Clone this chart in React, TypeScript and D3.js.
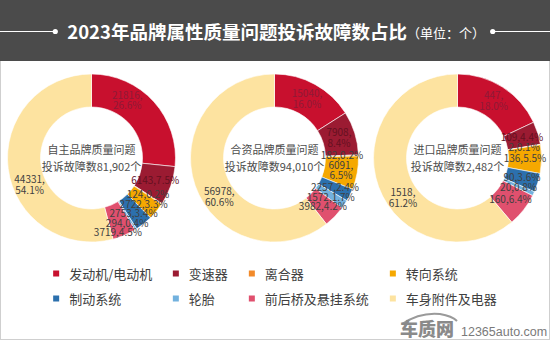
import React from 'react';
import * as d3 from 'd3';

const categories = ['发动机/电动机', '变速器', '离合器', '转向系统', '制动系统', '轮胎', '前后桥及悬挂系统', '车身附件及电器'];
const colors = ['#c8102e', '#9b1b32', '#f28a2a', '#f5a800', '#2c70ad', '#72b1de', '#e0506e', '#fde3a0'];
const labelColors = ['#8e1a36', '#64101f', '#404040', '#404040', '#404040', '#404040', '#404040', '#404040'];

const seriesNames = ['自主品牌质量问题', '合资品牌质量问题', '进口品牌质量问题'];
const domesticValues = [21816, 6143, 124, 2722, 2753, 294, 3719, 44331];
const jointValues = [15040, 7908, 182, 6091, 2257, 1572, 3982, 56978];
const importValues = [447, 109, 2, 136, 90, 20, 160, 1518];
const seriesValues = [domesticValues, jointValues, importValues];

// which labels break onto two lines
const wrapDomestic = [true, false, false, false, false, false, false, true];
const wrapJoint = [true, true, false, true, false, false, false, true];
const wrapImport = [true, false, false, false, false, false, false, true];
const seriesWrap = [wrapDomestic, wrapJoint, wrapImport];

const titleText = '2023年品牌属性质量问题投诉故障数占比';
const unitText = '（单位：个）';

const FONT = "'Noto Sans CJK SC', 'Noto Sans', sans-serif";

function textWidth(s: string, fs: number) {
  let w = 0;
  for (const ch of s) w += /[\u3000-\u9fff\uff00-\uffef]/.test(ch) ? fs : fs * 0.36;
  return w;
}

export default function App() {
  const W = 550, H = 340;
  const cy = 158, outerR = 84, innerR = 51;
  const xPos = d3.scalePoint<string>().domain(seriesNames).range([91.5, 457.5]);
  const pie = d3.pie<number>().sort(null).value((d) => d).startAngle(0).endAngle(2 * Math.PI);
  const arc = d3.arc<d3.PieArcDatum<number>>().innerRadius(innerR).outerRadius(outerR);
  const fmtPct = d3.format('.1f');
  const fmtTotal = d3.format(',');
  const lineH = 9.5;
  const labelR = (innerR + outerR) / 2;

  const donuts = seriesNames.map((name, si) => {
    const vals = seriesValues[si];
    const total = d3.sum(vals);
    const cx = xPos(name) as number;
    const arcs = pie(vals);
    const labels = arcs.map((a, i) => {
      let ang = (a.startAngle + a.endAngle) / 2;
      if (a.endAngle - a.startAngle > Math.PI / 2) ang -= (16 * Math.PI) / 180;
      const x = labelR * Math.sin(ang);
      const y = -labelR * Math.cos(ang);
      const wrap = seriesWrap[si][i];
      const pct = fmtPct((a.value / total) * 100) + '%';
      const lines = wrap ? [a.value + ',', pct] : [a.value + ',' + pct];
      return { i, x, y, lines, h: lines.length * lineH + (wrap ? 1 : 0) };
    });
    // simple vertical de-overlap per side
    [true, false].forEach((right) => {
      const grp = labels.filter((l) => (l.x >= 0) === right).sort((a, b) => a.y - b.y);
      let prevBottom = -Infinity;
      grp.forEach((l) => {
        const top = l.y - l.h / 2;
        if (top < prevBottom) l.y = prevBottom + l.h / 2;
        prevBottom = l.y + l.h / 2;
      });
    });
    return { name, total, cx, arcs, labels };
  });

  // legend layout: 4 columns x 2 rows
  const legFs = 13;
  const nCols = 4;
  const colW = d3.range(nCols).map((c) =>
    d3.max([categories[c], categories[c + nCols]].map((t) => textWidth(t, legFs))) as number
  );
  const sq = 6, sqGap = 10, colGap = 21;
  const widths = colW.map((w, c) => sq + sqGap + w + (c < nCols - 1 ? colGap : 0));
  const totalLegW = d3.sum(widths);
  const legX0 = W / 2 - totalLegW / 2;
  const colX = widths.map((_, c) => legX0 + d3.sum(widths.slice(0, c)));
  const rowY = [274, 299];

  const titleFs = 18.5, unitFs = 13;
  const titleW = textWidth(titleText, titleFs) + 4 * titleFs * 0.2;
  const unitW = textWidth(unitText, unitFs);
  const tX0 = W / 2 - (titleW + unitW) / 2;

  return (
    <svg width={W} height={H} style={{ position: 'absolute', left: 0, top: 0 }} fontFamily={FONT}>
      <rect x={0} y={0} width={W} height={H} fill="#fff" />
      <rect x={0.5} y={0.5} width={W - 1} height={H - 1} fill="none" stroke="#cfcfcf" />
      <rect x={0} y={0} width={W} height={61} fill="#4b4b4b" />
      <line x1={0} x2={tX0 - 12} y1={31.5} y2={31.5} stroke="#fff" strokeWidth={1} />
      <circle cx={tX0 - 12} cy={31.5} r={2.6} fill="#fff" />
      <line x1={tX0 + titleW + unitW + 10} x2={W} y1={31.5} y2={31.5} stroke="#fff" strokeWidth={1} />
      <circle cx={tX0 + titleW + unitW + 10} cy={31.5} r={2.6} fill="#fff" />
      <text x={tX0} y={38.5} fill="#fff" fontSize={titleFs} fontWeight="bold">
        {titleText}
        <tspan fontSize={unitFs} fontWeight="normal" dy={-1}>{unitText}</tspan>
      </text>

      {donuts.map((d) => (
        <g key={d.name} transform={`translate(${d.cx},${cy})`}>
          {d.arcs.map((a, i) => (
            <path key={i} d={arc(a) as string} fill={colors[i]} stroke="#fff" strokeWidth={0.6} />
          ))}
          {d.labels.map((l) => (
            <text key={l.i} x={l.x} y={l.y} textAnchor="middle" fontSize={10} fill={labelColors[l.i]}>
              {l.lines.map((t, k) => (
                <tspan key={k} x={l.x} y={l.y - ((l.lines.length - 1) * 10.5) / 2 + k * 10.5 + 3.5}>{t}</tspan>
              ))}
            </text>
          ))}
          <text x={0} y={-4} textAnchor="middle" fontSize={11} fill="#4d4d4d">{d.name}</text>
          <text x={0} y={13} textAnchor="middle" fontSize={11} fill="#4d4d4d">{'投诉故障数' + fmtTotal(d.total) + '个'}</text>
        </g>
      ))}

      {categories.map((c, i) => {
        const col = i % nCols, row = Math.floor(i / nCols);
        const x = colX[col], y = rowY[row];
        return (
          <g key={c}>
            <rect x={x} y={y - sq / 2 - 0.5} width={sq} height={sq} fill={colors[i]} />
            <text x={x + sq + sqGap} y={y + 4.5} fontSize={legFs} fill="#404040">{c}</text>
          </g>
        );
      })}

      <g>
        <path d="M402,324 Q420,312 440,314 Q452,316 457,321" fill="none" stroke="#9a9a9a" strokeWidth={2} />
        <text x={400} y={336} fontSize={18} fontWeight="900" fill="#8a8a8a">车质网</text>
        <text x={461} y={336} fontSize={12.5} fill="#7a7a7a" fontFamily="'Liberation Sans', sans-serif">12365auto.com</text>
      </g>
    </svg>
  );
}
